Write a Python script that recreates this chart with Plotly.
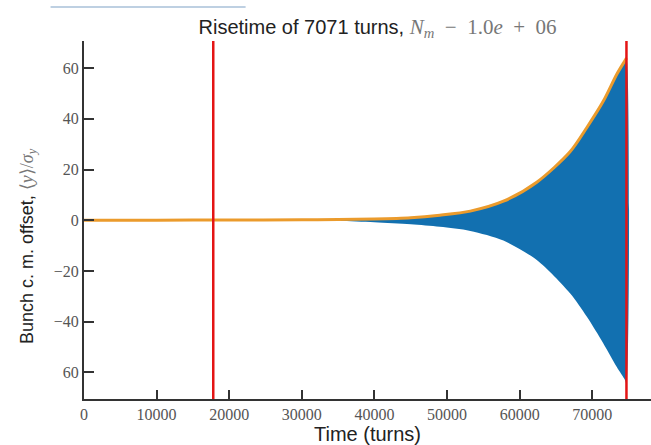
import plotly.graph_objects as go

# Data
turns = [0, 10000, 20000, 30000, 35000, 40000, 45000, 49000, 53200, 57760,
         62350, 66930, 69230, 71520, 73350, 74500, 74700]
upper_env = [0.05, 0.05, 0.1, 0.2, 0.3, 0.5, 1.0, 2.0, 3.6, 7.5,
             15.0, 27.0, 36.5, 47.0, 57.5, 63.0, 64.0]
lower_env = [-0.05, -0.05, -0.1, -0.2, -0.3, -0.8, -1.6, -2.6, -4.2, -8.0,
             -15.7, -28.8, -38.0, -48.6, -57.8, -63.0, -64.5]
markers = [17800, 74700]

x_ticks = [0, 10000, 20000, 30000, 40000, 50000, 60000, 70000]
x_ticktext = ["0", "10000", "20000", "30000", "40000", "50000", "60000", "70000"]
y_ticks = [-60, -40, -20, 0, 20, 40, 60]
y_ticktext = ["60", "\u221240", "\u221220", "0", "20", "40", "60"]

fig = go.Figure()

# blue oscillation band (filled envelope)
fig.add_trace(go.Scatter(
    x=turns + turns[::-1],
    y=upper_env + lower_env[::-1],
    fill="toself", fillcolor="#1270b0",
    line=dict(width=0, color="#1270b0", shape="spline", smoothing=0.8),
    mode="lines", hoverinfo="skip", showlegend=False,
))
# orange envelope line
fig.add_trace(go.Scatter(
    x=turns, y=upper_env, mode="lines",
    line=dict(color="#eb9b2c", width=3, shape="spline", smoothing=0.8),
    showlegend=False,
))

for m in markers:
    fig.add_shape(type="line", xref="x", yref="paper", x0=m, x1=m, y0=0, y1=1,
                  line=dict(color="#e41414", width=2.5))

# faint scan artifact line at top-left
fig.add_shape(type="line", xref="paper", yref="paper", x0=-0.059, x1=0.285,
              y0=1.095, y1=1.095, line=dict(color="#a9c0d8", width=1.5))

serif = "Liberation Serif"
sans = "Liberation Sans"
sp = "\u2002"

fig.add_annotation(
    text="Bunch c. m. offset, <span style='font-family:Liberation Serif;color:#777'>\u27e8<i>y</i>\u27e9/<i>\u03c3<sub>y</sub></i></span>",
    textangle=-90, xref="paper", yref="paper", x=-0.099, y=0.427,
    xanchor="center", yanchor="middle", showarrow=False,
    font=dict(family=sans, size=18, color="#222"),
)

fig.update_layout(
    width=651, height=445,
    margin=dict(l=84, r=0, t=41, b=46),
    paper_bgcolor="white", plot_bgcolor="white",
    title=dict(
        text="Risetime of 7071 turns, <span style='font-family:Liberation Serif;color:#777;font-size:21px'><i>N<sub>m</sub></i>" + sp + "\u2212" + sp + "1.0<i>e</i>" + sp + "+" + sp + "06</span>",
        x=0.58, xref="container", xanchor="center",
        y=0.94, yref="container", yanchor="middle",
        font=dict(family=sans, size=20, color="#222"),
    ),
    xaxis=dict(
        range=[0, 78080], tickvals=x_ticks, ticktext=x_ticktext,
        ticks="inside", ticklen=9, tickwidth=1.5, tickcolor="#333",
        showline=True, linecolor="#333", linewidth=2,
        showgrid=False, zeroline=False,
        tickfont=dict(family=serif, size=16, color="#555"),
        title=dict(text="Time (turns)", font=dict(family=sans, size=20, color="#222"), standoff=2),
    ),
    yaxis=dict(
        range=[-70.5, 70.7], tickvals=y_ticks, ticktext=y_ticktext,
        ticks="inside", ticklen=10, tickwidth=1.5, tickcolor="#333",
        showline=True, linecolor="#333", linewidth=2,
        showgrid=False, zeroline=False,
        tickfont=dict(family=serif, size=16, color="#555"),
    ),
)

fig.write_html("out.html")
